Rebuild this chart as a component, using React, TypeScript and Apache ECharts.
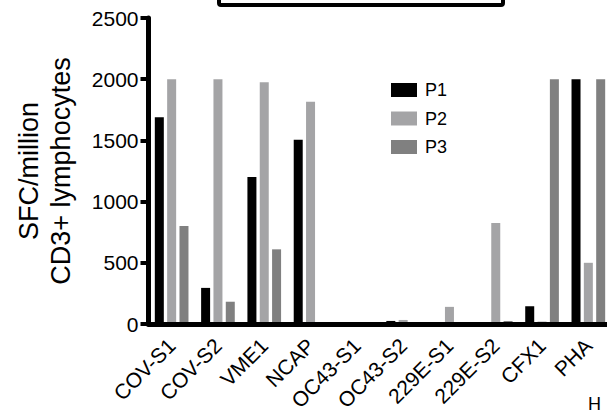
import React, { useEffect, useRef } from 'react';
import * as echarts from 'echarts';

const categories = ['COV-S1', 'COV-S2', 'VME1', 'NCAP', 'OC43-S1', 'OC43-S2', '229E-S1', '229E-S2', 'CFX1', 'PHA'];
const seriesNames = ['P1', 'P2', 'P3'];
const p1Values = [1690, 295, 1200, 1505, 0, 25, 0, 0, 145, 2000];
const p2Values = [2000, 2000, 1975, 1815, 10, 33, 140, 825, 20, 500];
const p3Values = [800, 182, 610, 15, 0, 0, 0, 25, 2000, 2000];
const seriesColors = ['#000000', '#a4a4a6', '#808080'];
const yMin = 0;
const yMax = 2500;
const yInterval = 500;
const yTitle = 'SFC/million\nCD3+ lymphocytes';
const panelLetter = 'H';

const FONT = 'Liberation Sans, Arial, Helvetica, sans-serif';

export default function App() {
  const ref = useRef<HTMLDivElement>(null);
  useEffect(() => {
    if (!ref.current) return;
    const chart = echarts.init(ref.current, null, { renderer: 'svg' });
    const values = [p1Values, p2Values, p3Values];
    chart.setOption({
      animation: false,
      backgroundColor: '#ffffff',
      textStyle: { fontFamily: FONT },
      grid: { left: 148.5, right: -4.5, top: 18, bottom: 90, containLabel: false, outerBoundsMode: 'none' },
      legend: {
        orient: 'vertical',
        left: 386,
        top: 76,
        itemWidth: 26,
        itemHeight: 14,
        itemGap: 10.5,
        icon: 'rect',
        data: seriesNames,
        textStyle: { fontSize: 18, color: '#000', fontFamily: FONT, padding: [0, 0, 0, 3] },
      },
      xAxis: {
        type: 'category',
        data: categories,
        z: 10,
        axisLine: { lineStyle: { color: '#000', width: 5 } },
        axisTick: { alignWithLabel: true, length: 11, lineStyle: { width: 4, color: '#000' } },
        axisLabel: { rotate: 45, margin: 18, color: '#000', fontSize: 21, interval: 0, fontFamily: FONT },
      },
      yAxis: {
        type: 'value',
        min: yMin,
        max: yMax,
        interval: yInterval,
        z: 10,
        name: yTitle,
        nameLocation: 'middle',
        nameGap: 72,
        nameTextStyle: { fontSize: 27, lineHeight: 32, color: '#000', fontFamily: FONT },
        axisLine: { show: true, lineStyle: { color: '#000', width: 5 } },
        axisTick: { show: true, length: 8, lineStyle: { width: 4, color: '#000' } },
        axisLabel: { margin: 10, fontSize: 21, color: '#000', fontFamily: FONT, formatter: (v: number) => String(v) },
        splitLine: { show: false },
      },
      series: seriesNames.map((name, i) => ({
        name,
        type: 'bar',
        data: values[i],
        barWidth: 9,
        barGap: '37%',
        itemStyle: { color: seriesColors[i] },
      })),
      graphic: [
        {
          type: 'rect',
          shape: { x: 219, y: -20, width: 284, height: 25, r: 2 },
          style: { fill: 'none', stroke: '#000', lineWidth: 4 },
        },
        {
          type: 'text',
          x: 588,
          y: 395,
          style: {
            text: panelLetter,
            fontSize: 18,
            fontFamily: FONT,
            fill: '#000',
            verticalAlign: 'top',
            textVerticalAlign: 'top',
          },
        },
      ],
    });
    return () => chart.dispose();
  }, []);
  return <div ref={ref} style={{ position: 'absolute', left: 0, top: 0, width: 607, height: 414 }} />;
}
